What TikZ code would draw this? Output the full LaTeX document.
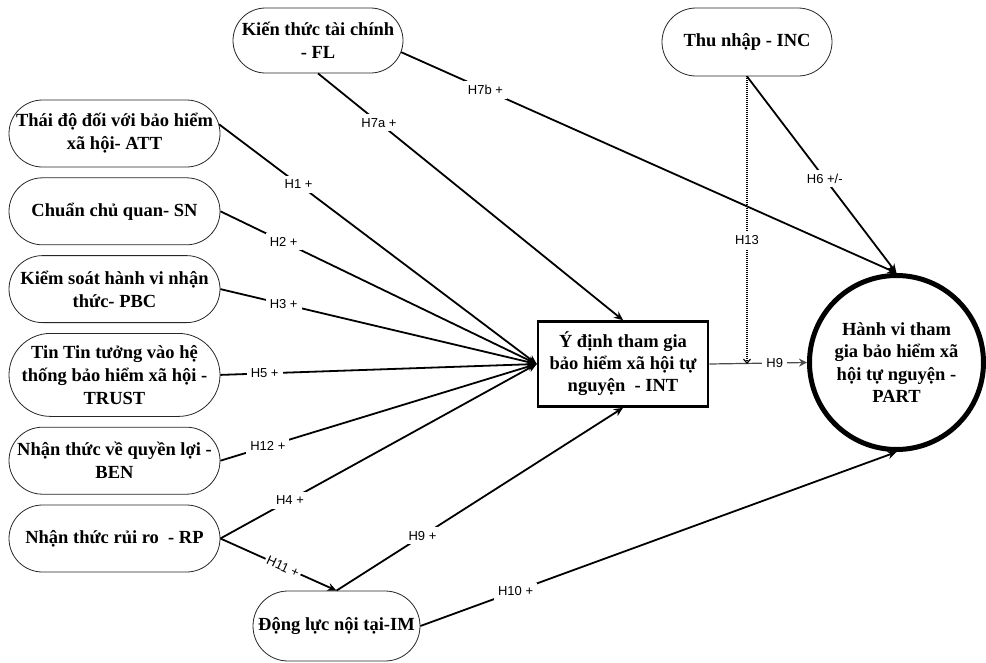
\documentclass[tikz,border=0pt]{standalone}
\usepackage{fontspec}
\setmainfont{Liberation Serif}
\newfontfamily\hypfont{Liberation Sans}
\usetikzlibrary{
    arrows.meta,
    shapes.misc,
    positioning
}
\tikzstyle{factor} = [
    rounded rectangle,
    draw=black!85,
    line width=0.8pt,
    minimum width=213pt,
    minimum height=67pt,
    align=center,
    inner sep=1pt,
    font=\fontsize{18.5}{23}\selectfont\bfseries
]
\tikzstyle{intent} = [
    rectangle,
    draw,
    line width=2.6pt,
    minimum width=170pt,
    minimum height=85pt,
    align=center,
    inner sep=1pt,
    font=\fontsize{18.5}{22}\selectfont\bfseries
]
\tikzstyle{behave} = [
    circle,
    draw,
    line width=5pt,
    minimum size=174pt,
    align=center,
    inner sep=0pt,
    font=\fontsize{18.5}{22.5}\selectfont\bfseries
]
\tikzstyle{arrow} = [
    -{Stealth[length=9pt,width=8pt]},
    line width=1.8pt
]
\tikzstyle{hyp} = [
    fill=white,
    inner sep=4pt,
    font=\hypfont\fontsize{13}{15}\selectfont
]

\begin{document}
\begin{tikzpicture}[x=1pt, y=-1pt]
        \useasboundingbox (0,0) rectangle (986,662);

        % Left column
        \node[factor] (att) at (114.5,133.5) {Thái độ đối với bảo hiểm\\xã hội- ATT};
        \node[factor, below=10pt of att] (sn) {Chuẩn chủ quan- SN};
        \node[factor, below=10pt of sn] (pbc) {Kiểm soát hành vi nhận\\thức- PBC};
        \node[factor, minimum height=83pt, below=10pt of pbc] (trust) {Tin Tin tưởng vào hệ\\thống bảo hiểm xã hội -\\TRUST};
        \node[factor, below=10pt of trust] (ben) {Nhận thức về quyền lợi -\\BEN};
        \node[factor, below=10pt of ben] (rp) {Nhận thức rủi ro\ \ - RP};

        % Top
        \node[factor, minimum width=172pt, minimum height=65pt] (fl) at (318,40.5) {Kiến thức tài chính\\- FL};
        \node[factor, minimum width=172pt, minimum height=68pt] (inc) at (747,42) {Thu nhập - INC};

        % Bottom
        \node[factor, minimum width=169pt, minimum height=70pt] (im) at (336.5,626) {Động lực nội tại-IM};

        % Intention and behaviour
        \node[intent] (int) at (623,364) {Ý định tham gia\\bảo hiểm xã hội tự\\nguyện\ \ - INT};
        \node[behave] (part) at (896.5,362.5) {Hành vi tham\\gia bảo hiểm xã\\hội tự nguyện -\\PART};

        % Paths into INT
        \draw[arrow] (att.5) -- node[hyp, pos=0.25] {H1 +} (int.west);
        \draw[arrow] (sn.east) -- node[hyp, pos=0.2] {H2 +} (int.west);
        \draw[arrow] (pbc.east) -- node[hyp, pos=0.2] {H3 +} (int.west);
        \draw[arrow] (trust.east) -- node[hyp, pos=0.14] {H5 +} (int.west);
        \draw[arrow] (ben.east) -- node[hyp, pos=0.15] {H12 +} (int.west);
        \draw[arrow] (rp.east) -- node[hyp, pos=0.22] {H4 +} (int.west);
        \draw[arrow] (fl.south) -- node[hyp, pos=0.2] {H7a +} (int.north);
        \draw[arrow] (im.north) -- node[hyp, pos=0.3] {H9 +} (int.south);
        \draw[arrow] (rp.east) -- node[hyp, pos=0.54, sloped, inner sep=2pt] {H11 +} (im.north);

        % Paths into PART
        \draw[arrow] (fl.-8) -- node[hyp, pos=0.17] {H7b +} (part.north);
        \draw[arrow] (inc.south) -- node[hyp, pos=0.52] {H6 +/-} (part.north);
        \draw[arrow] (im.east) -- node[hyp, pos=0.2] {H10 +} (part.south);
        \draw[-{Stealth[length=8pt,width=8pt]}, line width=1.2pt, draw=black!70] (int.east) -- node[hyp, pos=0.67] {H9} (part.west);

        % Moderation
        \coordinate (mod) at (inc.south |- int.east);
        \draw[-{Straight Barb[length=4pt,width=7pt]}, line width=1.2pt, dash pattern=on 1pt off 1pt] (inc.south) -- node[hyp, pos=0.57] {H13} (mod);
    \end{tikzpicture}
\end{document}
